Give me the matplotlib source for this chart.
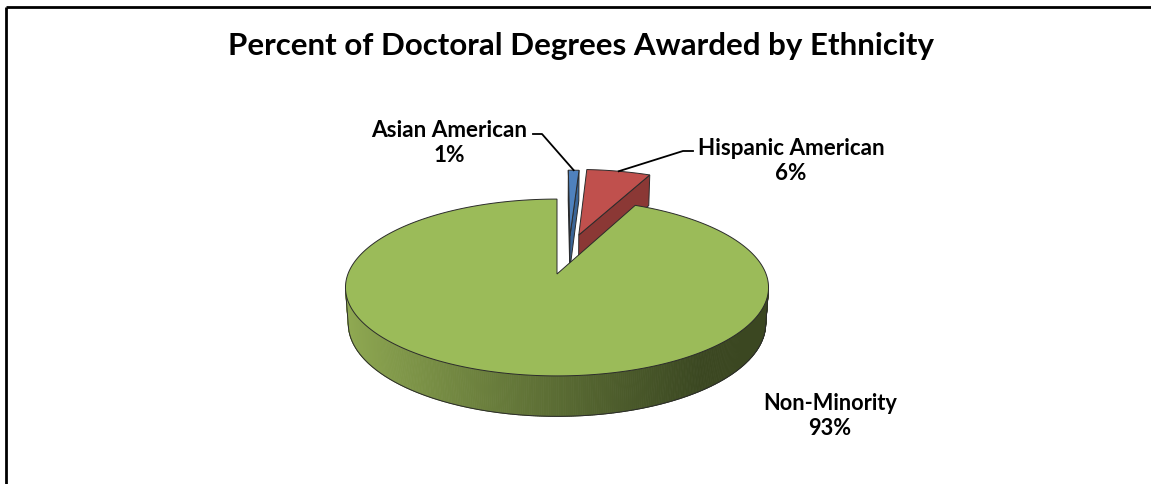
import numpy as np
import matplotlib
matplotlib.use("Agg")
import matplotlib.pyplot as plt
from matplotlib.patches import Polygon

# ---------------- data ----------------
categories = ["Asian American", "Hispanic American", "Non-Minority"]
percents = [1, 6, 93]
pct_labels = ["1%", "6%", "93%"]
title = "Percent of Doctoral Degrees Awarded by Ethnicity"

# ---------------- style ----------------
top_colors = ["#4f81bd", "#c0504d", "#9bbb59"]
side_colors = ["#3a6496", "#8b3835", "#6e8a3a"]
explode = [(0.477, 82.0), (0.498, 77.0), (0.0, 0.0)]   # (distance, direction deg)
edge_col = "#2b2b2b"
FONT = "Lato"

W, H = 1151, 485
fig = plt.figure(figsize=(W / 100, H / 100), dpi=100)
ax = fig.add_axes([0, 0, 1, 1])
ax.set_xlim(0, W)
ax.set_ylim(H, 0)
ax.axis("off")

# ---------------- simple perspective camera ----------------
tilt = np.radians(24.4)
cs, sn = np.cos(tilt), np.sin(tilt)
Dcam = 5.97
focal = 1248.0
cx, cy = 557.0, 275.0
thick = 0.19
cam = np.array([0.0, -Dcam * cs, Dcam * sn])


def proj(x, y, z):
    x = np.atleast_1d(np.asarray(x, float))
    y = np.atleast_1d(np.asarray(y, float))
    z = np.atleast_1d(np.asarray(z, float))
    d = y * cs - z * sn
    v = y * sn + z * cs
    k = focal / (Dcam + d)
    return np.column_stack([cx + x * k, cy - v * k])


def rim(ox, oy, angs, z):
    return proj(ox + np.cos(angs), oy + np.sin(angs), np.full_like(angs, z))


frac = np.array(percents, float) / np.sum(percents)
cum = np.concatenate([[0], np.cumsum(frac)])
a_start = np.radians(90 - 360 * cum[:-1])
a_end = np.radians(90 - 360 * cum[1:])

offsets = [(d * np.cos(np.radians(a)), d * np.sin(np.radians(a))) for d, a in explode]

light = np.array([0.56, 0.66, 0.32])
dark = np.array([0.23, 0.28, 0.13])


def side_color(px):
    t = np.clip((px - 350) / (700 - 350), 0, 1)
    return tuple(light + (dark - light) * t ** 0.9)


def draw_slice(i):
    ox, oy = offsets[i]
    a0, a1 = a_start[i], a_end[i]
    n = max(int(abs(a0 - a1) / np.radians(0.5)), 4)
    angs = np.linspace(a0, a1, n)
    # outer curved side
    mids = 0.5 * (angs[:-1] + angs[1:])
    nx, ny = np.cos(mids), np.sin(mids)
    px_ = ox + nx
    py_ = oy + ny
    vis = nx * (cam[0] - px_) + ny * (cam[1] - py_) > 0
    top = rim(ox, oy, angs, 0.0)
    bot = rim(ox, oy, angs, -thick)
    if vis.any():
        idx = np.where(vis)[0]
        for j in idx:
            quad = np.array([top[j], top[j + 1], bot[j + 1], bot[j]])
            col = side_color(quad[:, 0].mean()) if i == 2 else side_colors[i]
            ax.add_patch(Polygon(quad, closed=True, facecolor=col, edgecolor=col,
                                 linewidth=0.6, zorder=2 + i * 0))
        j0, j1 = idx[0], idx[-1] + 1
        ax.plot(bot[j0:j1 + 1, 0], bot[j0:j1 + 1, 1], color=edge_col, lw=0.7, zorder=3)
        for j in (j0, j1):
            ax.plot([top[j, 0], bot[j, 0]], [top[j, 1], bot[j, 1]], color=edge_col, lw=0.7, zorder=3)
    # cut faces
    for a, sgn in ((a0, +1), (a1, -1)):
        nrm = np.array([np.cos(a + sgn * np.pi / 2), np.sin(a + sgn * np.pi / 2), 0.0])
        p = np.array([ox, oy, 0.0])
        if nrm @ (cam - p) > 1e-9:
            pts = np.vstack([proj(ox, oy, 0), proj(ox + np.cos(a), oy + np.sin(a), 0),
                             proj(ox + np.cos(a), oy + np.sin(a), -thick), proj(ox, oy, -thick)])
            ax.add_patch(Polygon(pts, closed=True, facecolor=side_colors[i],
                                 edgecolor=edge_col, linewidth=0.7, zorder=2))
    # top face
    pts = np.vstack([proj(ox, oy, 0), top])
    ax.add_patch(Polygon(pts, closed=True, facecolor=top_colors[i],
                         edgecolor=edge_col, linewidth=0.7, zorder=4))


# far slices first
order = sorted(range(len(percents)), key=lambda i: -offsets[i][1])
for i in order:
    draw_slice(i)

# ---------------- text ----------------
fig.canvas.draw()
renderer = fig.canvas.get_renderer()


def fit_text(x, y, s, target_w, **kw):
    t = ax.text(x, y, s, fontsize=10, **kw)
    w = t.get_window_extent(renderer).width
    t.set_fontsize(10 * target_w / w)
    return t


fit_text(581.5, 55, title, 707, ha="center", va="baseline",
         fontweight="bold", family=FONT, color="black")

lab_cfg = {
    0: dict(x=449.5, y1=137, y2=162, w=157),
    1: dict(x=791.0, y1=155, y2=180, w=187),
    2: dict(x=830.0, y1=410, y2=435, w=134),
}
tsz = None
for i, c in lab_cfg.items():
    t = fit_text(c["x"], c["y1"], categories[i], c["w"], ha="center", va="baseline",
                 fontweight="bold", family=FONT, color="black")
    ax.text(c["x"], c["y2"], pct_labels[i], fontsize=t.get_fontsize(), ha="center",
            va="baseline", fontweight="bold", family=FONT, color="black")

# leader lines to rim midpoints
elbows = {0: [(533, 135), (542, 135)], 1: [(693, 152), (683, 152)]}
for i, pts in elbows.items():
    ox, oy = offsets[i]
    am = 0.5 * (a_start[i] + a_end[i])
    tip = proj(ox + np.cos(am), oy + np.sin(am), 0)[0]
    xs = [p[0] for p in pts] + [tip[0]]
    ys = [p[1] for p in pts] + [tip[1]]
    ax.plot(xs, ys, color="black", lw=1.3, zorder=5)

# frame
ax.plot([6.5, W], [8, 8], color="black", lw=2.0, solid_capstyle="butt")
ax.plot([6.5, 6.5], [8, H], color="black", lw=2.0, solid_capstyle="butt")

fig.savefig("out.png", dpi=100)
